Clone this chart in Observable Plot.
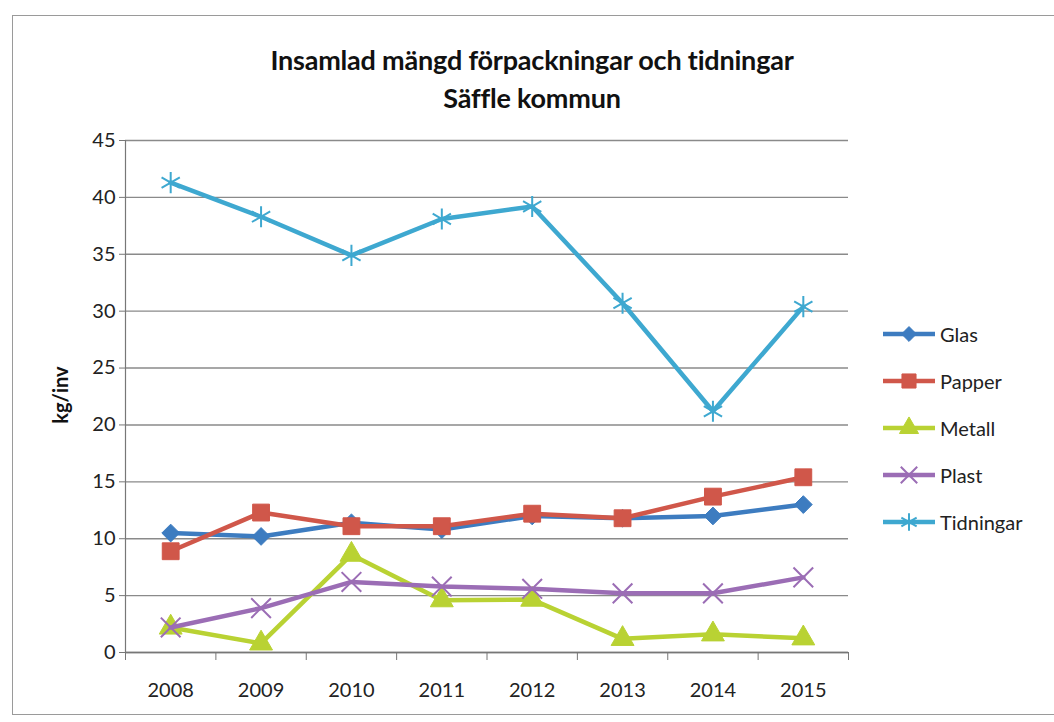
<!DOCTYPE html>
<html>
<head>
<meta charset="utf-8">
<script src="https://cdn.jsdelivr.net/npm/d3@7"></script>
<script src="https://cdn.jsdelivr.net/npm/@observablehq/plot@0.6"></script>
<style>
  html, body { margin: 0; padding: 0; background: #fff; }
  #wrap { position: relative; width: 1054px; height: 722px; overflow: hidden; font-family: Lato, "Open Sans", sans-serif; }
  #frame { position: absolute; left: 12px; top: 15px; width: 1060px; height: 700px; border: 1.5px solid #9a9a9a; box-sizing: border-box; }
  #title { position: absolute; left: 0; top: 41px; width: 1064px; text-align: center; font-weight: 700; font-size: 27px; line-height: 38px; color: #111; letter-spacing: -0.2px; }
  #chart { position: absolute; left: 0; top: 125px; }
  #ylabel { position: absolute; left: 60px; top: 395px; transform: translate(-50%, -50%) rotate(-90deg); font-weight: 700; font-size: 20px; color: #111; white-space: nowrap; }
  #legend { position: absolute; left: 880px; top: 310px; }
  .item { display: flex; align-items: center; height: 47px; font-size: 20px; color: #222; }
  .item svg { margin-right: 2px; }
</style>
</head>
<body>
<div id="wrap">
  <div id="frame"></div>
  <div id="title">Insamlad mängd förpackningar och tidningar<br>Säffle kommun</div>
  <div id="chart"></div>
  <div id="ylabel">kg/inv</div>
  <div id="legend"></div>
</div>
<script>
const years = [2008, 2009, 2010, 2011, 2012, 2013, 2014, 2015];
const glas = [10.5, 10.2, 11.4, 10.8, 12.0, 11.8, 12.0, 13.0];
const papper = [8.9, 12.3, 11.1, 11.1, 12.2, 11.8, 13.7, 15.4];
const metall = [2.2, 0.8, 8.6, 4.6, 4.65, 1.2, 1.6, 1.25];
const plast = [2.2, 3.9, 6.2, 5.8, 5.6, 5.2, 5.2, 6.6];
const tidningar = [41.3, 38.3, 34.9, 38.1, 39.2, 30.7, 21.2, 30.4];
const yTicks = [0, 5, 10, 15, 20, 25, 30, 35, 40, 45];

const seriesNames = ["Glas", "Papper", "Metall", "Plast", "Tidningar"];
const seriesValues = [glas, papper, metall, plast, tidningar];
const colors = ["#3d7cc0", "#d0574a", "#b9d233", "#9b6db5", "#3ea8d0"];
const symbols = ["diamond2", "square", "triangle", "times", "asterisk"];
const filled = [true, true, true, false, false];
const symSize = [8, 9.5, 8.5, 9, 10];

const rows = [];
seriesNames.forEach((s, i) => years.forEach((y, j) => rows.push({series: s, year: y, value: seriesValues[i][j]})));

const boundaries = years.map(y => y - 0.5).concat([years[years.length - 1] + 0.5]);

const marks = [
  Plot.gridY(yTicks, {stroke: "#8a8a8a", strokeOpacity: 1, strokeWidth: 1.4}),
  Plot.ruleX([boundaries[0]], {stroke: "#777", strokeWidth: 1.2}),
  Plot.ruleY([0], {stroke: "#777", strokeWidth: 1.4}),
  Plot.axisY({ticks: yTicks, tickSize: 6, tickPadding: 4, fontSize: 20, label: null, stroke: "#777"}),
  Plot.axisX({ticks: boundaries, tickSize: 8, tickFormat: () => "", label: null, stroke: "#777"}),
  Plot.axisX({ticks: years, tickSize: 0, tickPadding: 30, tickFormat: d => String(d), fontSize: 20, label: null})
];
seriesNames.forEach((s, i) => {
  const data = rows.filter(r => r.series === s);
  marks.push(Plot.line(data, {x: "year", y: "value", stroke: colors[i], strokeWidth: 4.5}));
  marks.push(Plot.dot(data, {
    x: "year", y: "value", symbol: () => symbols[i], r: symSize[i],
    fill: filled[i] ? colors[i] : "none",
    stroke: colors[i], strokeWidth: filled[i] ? 1 : 2
  }));
});

const chart = Plot.plot({
  width: 1054,
  height: 597,
  marginLeft: 125,
  marginRight: 206,
  marginTop: 15,
  marginBottom: 70,
  style: {fontFamily: "Lato, 'Open Sans', sans-serif", color: "#222", background: "transparent"},
  x: {type: "linear", domain: [boundaries[0], boundaries[boundaries.length - 1]]},
  y: {domain: [0, 45]},
  symbol: {type: "identity"},
  marks
});
document.getElementById("chart").appendChild(chart);

// legend
const legend = d3.select("#legend");
const symMap = {diamond2: d3.symbolDiamond2, square: d3.symbolSquare, triangle: d3.symbolTriangle, times: d3.symbolTimes, asterisk: d3.symbolAsterisk};
seriesNames.forEach((s, i) => {
  const item = legend.append("div").attr("class", "item");
  const svg = item.append("svg").attr("width", 58).attr("height", 24);
  svg.append("line").attr("x1", 3).attr("x2", 55).attr("y1", 12).attr("y2", 12)
    .attr("stroke", colors[i]).attr("stroke-width", 4.5);
  const sym = d3.symbol(symMap[symbols[i]], Math.PI * symSize[i] * symSize[i] * 0.7);
  svg.append("path").attr("d", sym()).attr("transform", "translate(29,12)")
    .attr("fill", filled[i] ? colors[i] : "none").attr("stroke", colors[i]).attr("stroke-width", filled[i] ? 1 : 2);
  item.append("span").text(s);
});
</script>
</body>
</html>
